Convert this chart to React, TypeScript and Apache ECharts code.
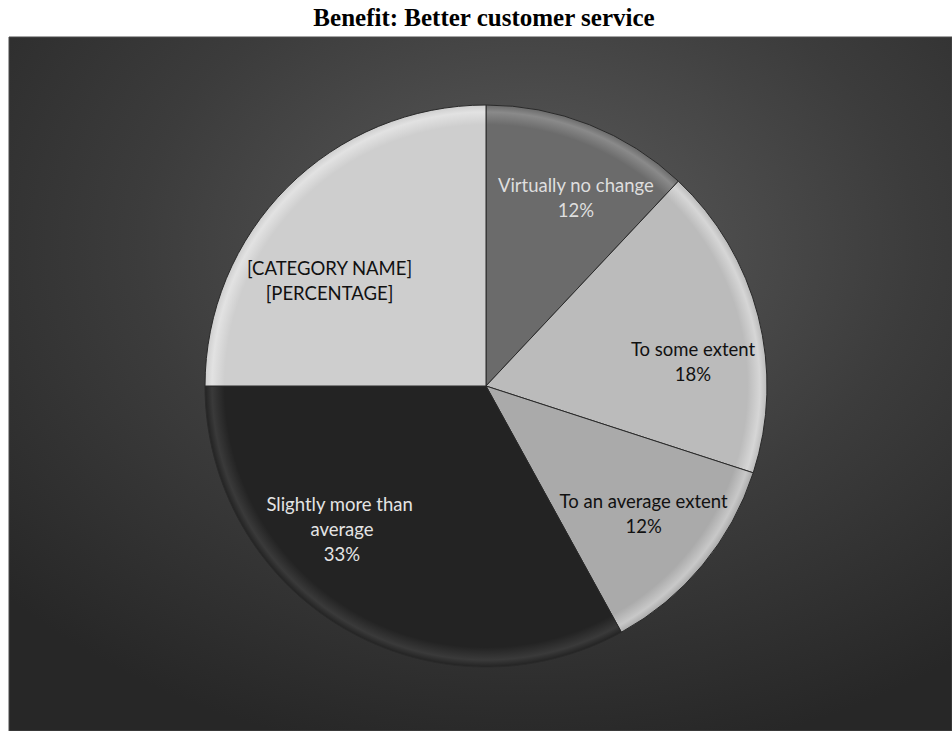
import React, { useEffect, useRef } from "react";
import * as echarts from "echarts";

const titleText = "Benefit: Better customer service";
const categories = [
  "Virtually no change",
  "To some extent",
  "To an average extent",
  "Slightly more than average",
  "[CATEGORY NAME]",
];
const values = [12, 18, 12, 33, 25];
const sliceColors = ["#6b6b6b", "#bbbbbb", "#aaaaaa", "#232323", "#cecece"];
const edgeColors = ["#8a8a8a", "#d6d6d6", "#c8c8c8", "#3a3a3a", "#e2e2e2"];
const labelColors = ["#dedede", "#111111", "#111111", "#e4e4e4", "#111111"];
const labelOffsets: [number, number][] = [
  [37, -55],
  [68, 11],
  [47, 36],
  [-71, 19],
  [-55, -4],
];

const CX = 486;
const CY = 386;
const R = 281;

export default function App() {
  const ref = useRef<HTMLDivElement>(null);
  useEffect(() => {
    if (!ref.current) return;
    const chart = echarts.init(ref.current, undefined, { renderer: "svg" });
    const data = categories.map((name, i) => ({
      name,
      value: values[i],
      itemStyle: {
        color: new echarts.graphic.RadialGradient(
          CX,
          CY,
          R,
          [
            { offset: 0, color: sliceColors[i] },
            { offset: 0.93, color: sliceColors[i] },
            { offset: 0.975, color: edgeColors[i] },
            { offset: 1, color: sliceColors[i] },
          ],
          true
        ),
      },
      label: {
        color: labelColors[i],
        offset: labelOffsets[i],
        formatter:
          name === "[CATEGORY NAME]" ? "{b}\n[PERCENTAGE]" : "{b}\n{d}%",
        width: 175,
        overflow: "break",
      },
    }));
    chart.setOption({
      animation: false,
      graphic: [
        {
          type: "rect",
          z: -10,
          shape: { x: 9, y: 37, width: 943, height: 694 },
          style: {
            fill: new echarts.graphic.RadialGradient(0.55, 0.3, 0.75, [
              { offset: 0, color: "#5c5c5c" },
              { offset: 0.55, color: "#3c3c3c" },
              { offset: 1, color: "#272727" },
            ]),
            stroke: "#4a4a4a",
            lineWidth: 1,
          },
        },
        {
          type: "text",
          x: 484,
          y: 5,
          style: {
            text: titleText,
            font: 'bold 25px "Liberation Serif"',
            fill: "#000",
            textAlign: "center",
            textVerticalAlign: "top",
          },
        },
      ],
      series: [
        {
          type: "pie",
          center: [CX, CY],
          radius: R,
          startAngle: 90,
          clockwise: true,
          z: 2,
          itemStyle: { borderColor: "#2a2a2a", borderWidth: 1 },
          label: {
            show: true,
            position: "inner",
            fontFamily: "Lato",
            fontSize: 18.5,
            lineHeight: 25,
            align: "center",
          },
          labelLine: { show: false },
          emphasis: { disabled: true },
          data,
        },
      ],
    });
    return () => chart.dispose();
  }, []);
  return (
    <div
      ref={ref}
      style={{ position: "absolute", left: 0, top: 0, width: 952, height: 731 }}
    />
  );
}
